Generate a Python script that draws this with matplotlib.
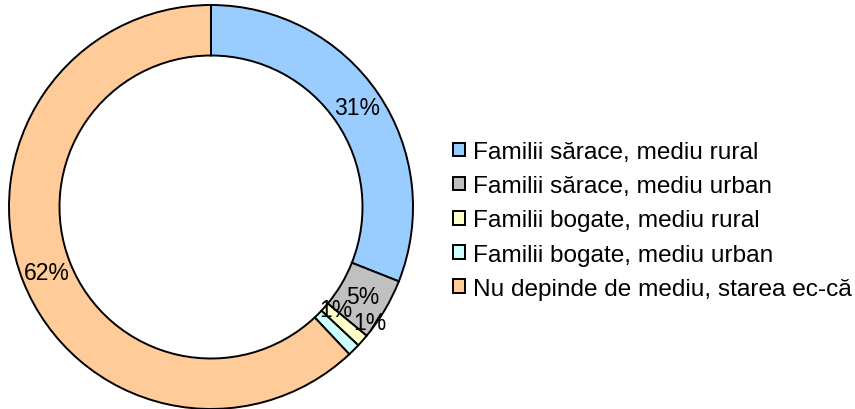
import matplotlib
matplotlib.use("Agg")
import matplotlib.pyplot as plt
import numpy as np
from matplotlib.patches import Patch

labels = ["Familii sărace, mediu rural", "Familii sărace, mediu urban",
          "Familii bogate, mediu rural", "Familii bogate, mediu urban",
          "Nu depinde de mediu, starea ec-că"]
values = [31, 5, 1, 1, 62]
colors = ["#99CCFF", "#C0C0C0", "#FFFFCC", "#CCFFFF", "#FFCC99"]

plt.rcParams['font.family'] = ['Liberation Sans', 'DejaVu Sans']
W, H = 855, 410
fig = plt.figure(figsize=(W/100, H/100), dpi=100)
R = 202
cx, cy = 211, 208
ax = fig.add_axes([(cx-R)/W, (H-cy-R)/H, 2*R/W, 2*R/H])

wedges, texts, autotexts = ax.pie(values, colors=colors, startangle=90, counterclock=False,
       radius=1.0, autopct='%1.0f%%', pctdistance=0.875,
       wedgeprops=dict(width=0.25, edgecolor='black', linewidth=1.4),
       textprops=dict(fontsize=16.5, color='black'))
ax.set_xlim(-1, 1); ax.set_ylim(-1, 1)
ax.set_aspect('equal')
ax.axis('off')
for w in wedges:
    w.set_clip_on(False)
# Excel-style offsets for the two tiny slices' labels
for t, (r, a) in zip(autotexts[2:4], [(0.97, -36.0), (0.80, -39.5)]):
    t.set_position((r*np.cos(np.radians(a)), r*np.sin(np.radians(a))))

handles = [Patch(facecolor=c, edgecolor='black', linewidth=1.4) for c in colors]
fig.legend(handles, labels, loc='upper left', bbox_to_anchor=(453/W, 1-142/H),
           frameon=False, fontsize=17.6, handlelength=0.48, handleheight=0.48,
           handletextpad=0.32, labelspacing=0.5, borderaxespad=0, borderpad=0)

fig.savefig("out.png", dpi=100)
